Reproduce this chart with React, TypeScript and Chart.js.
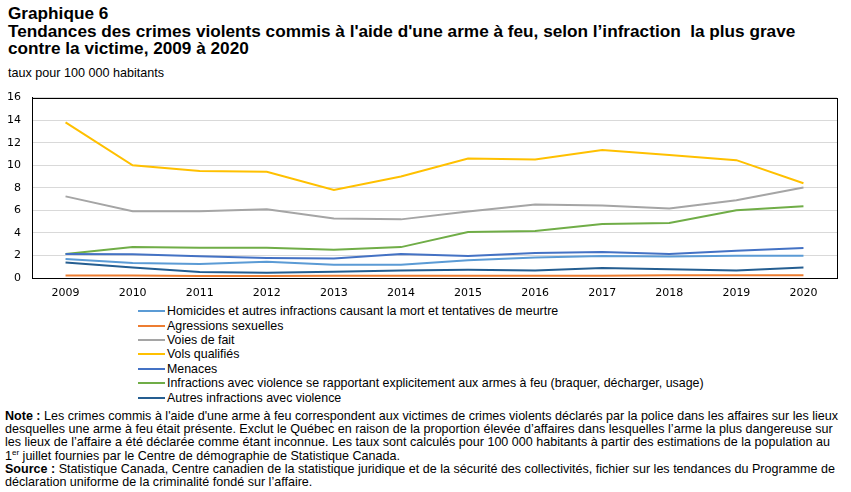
import React, { useEffect, useRef } from "react";
import { Chart, registerables } from "chart.js";

Chart.register(...registerables);

const years = ["2009", "2010", "2011", "2012", "2013", "2014", "2015", "2016", "2017", "2018", "2019", "2020"];

const homicides = [1.69, 1.34, 1.25, 1.45, 1.17, 1.17, 1.58, 1.81, 1.95, 1.9, 1.98, 1.98];
const agressionsSexuelles = [0.23, 0.22, 0.17, 0.18, 0.2, 0.2, 0.2, 0.2, 0.2, 0.25, 0.25, 0.25];
const voiesDeFait = [7.24, 5.93, 5.92, 6.1, 5.28, 5.2, 5.9, 6.52, 6.42, 6.16, 6.89, 8.03];
const volsQualifies = [13.8, 10.0, 9.5, 9.42, 7.8, 9.0, 10.6, 10.5, 11.35, 10.9, 10.45, 8.4];
const menaces = [2.13, 2.1, 1.93, 1.78, 1.72, 2.13, 1.95, 2.22, 2.3, 2.13, 2.42, 2.66];
const infractionsArmes = [2.13, 2.74, 2.68, 2.68, 2.5, 2.74, 4.08, 4.17, 4.78, 4.87, 6.01, 6.36];
const autresInfractions = [1.37, 0.93, 0.53, 0.46, 0.55, 0.67, 0.73, 0.67, 0.88, 0.78, 0.67, 0.93];

const seriesLabels = [
  "Homicides et autres infractions causant la mort et tentatives de meurtre",
  "Agressions sexuelles",
  "Voies de fait",
  "Vols qualifiés",
  "Menaces",
  "Infractions avec violence se rapportant explicitement aux armes à feu (braquer, décharger, usage)",
  "Autres infractions avec violence",
];
const seriesValues = [homicides, agressionsSexuelles, voiesDeFait, volsQualifies, menaces, infractionsArmes, autresInfractions];
const seriesColors = ["#5B9BD5", "#ED7D31", "#A5A5A5", "#FFC000", "#4472C4", "#70AD47", "#255E91"];

const yTicks = [0, 2, 4, 6, 8, 10, 12, 14, 16];

const TEXT_FONT = "'Liberation Sans', Arial, sans-serif";
const TICK_FONT = "'DejaVu Sans', Verdana, sans-serif";

const borderPlugin = {
  id: "plotBorder",
  afterDraw(chart: any) {
    const { ctx, chartArea } = chart;
    ctx.save();
    ctx.strokeStyle = "#000000";
    ctx.lineWidth = 1;
    ctx.strokeRect(
      Math.round(chartArea.left) + 0.5,
      Math.round(chartArea.top) + 0.5,
      Math.round(chartArea.right - chartArea.left),
      Math.round(chartArea.bottom - chartArea.top)
    );
    ctx.restore();
  },
};

export default function App() {
  const canvasRef = useRef<HTMLCanvasElement | null>(null);

  useEffect(() => {
    if (!canvasRef.current) return;
    const chart = new Chart(canvasRef.current, {
      type: "line",
      data: {
        labels: years,
        datasets: seriesLabels.map((label, i) => ({
          label,
          data: seriesValues[i],
          borderColor: seriesColors[i],
          backgroundColor: seriesColors[i],
          borderWidth: 2,
          pointRadius: 0,
          tension: 0,
          fill: false,
        })),
      },
      options: {
        animation: false,
        responsive: false,
        maintainAspectRatio: false,
        layout: { padding: { top: 0, right: 14, left: 0, bottom: 0 } },
        plugins: {
          legend: { display: false },
          tooltip: { enabled: false },
          title: { display: false },
        },
        scales: {
          x: {
            offset: true,
            grid: { display: false, drawTicks: false },
            border: { display: true, color: "#000000" },
            ticks: {
              color: "#000000",
              font: { family: TICK_FONT, size: 11 },
              padding: 9,
              maxRotation: 0,
              autoSkip: false,
            },
            afterFit(scale: any) {
              scale.height = 22;
            },
          },
          y: {
            min: 0,
            max: 16,
            afterBuildTicks(scale: any) {
              scale.ticks = yTicks.map((v) => ({ value: v }));
            },
            grid: { color: "#D9D9D9", drawTicks: false, lineWidth: 1 },
            border: { display: true, color: "#000000" },
            ticks: {
              color: "#000000",
              font: { family: TICK_FONT, size: 11 },
              padding: 11,
            },
            afterFit(scale: any) {
              scale.width = 32;
            },
          },
        },
      },
      plugins: [borderPlugin],
    });
    return () => chart.destroy();
  }, []);

  const line = { display: "block", whiteSpace: "nowrap" as const };

  return (
    <div style={{ position: "absolute", left: 0, top: 0, width: 851, height: 492, background: "#fff", fontFamily: TEXT_FONT, color: "#000" }}>
      <div style={{ position: "absolute", left: 8, top: 5, fontWeight: "bold", fontSize: 17.2, lineHeight: "17.5px", width: 843, whiteSpace: "nowrap" }}>
        Graphique 6
        <br />
        Tendances des crimes violents commis à l'aide d'une arme à feu, selon l’infraction&nbsp; la plus grave
        <br />
        contre la victime, 2009 à 2020
      </div>
      <div style={{ position: "absolute", left: 8, top: 66, fontSize: 12.6, whiteSpace: "nowrap" }}>taux pour 100 000 habitants</div>
      <canvas ref={canvasRef} width={851} height={220} style={{ position: "absolute", left: 0, top: 80, width: 851, height: 220 }} />
      <div style={{ position: "absolute", left: 138, top: 304 }}>
        {seriesLabels.map((label, i) => (
          <div key={label} style={{ display: "flex", alignItems: "center", height: 14.4, fontSize: 12.4, whiteSpace: "nowrap" }}>
            <span style={{ display: "inline-block", width: 27, height: 2, background: seriesColors[i], marginRight: 2 }} />
            <span>{label}</span>
          </div>
        ))}
      </div>
      <div style={{ position: "absolute", left: 5, top: 410, width: 846, fontSize: 12.55, lineHeight: "13.2px" }}>
        <span style={line}>
          <b>Note :</b> Les crimes commis à l'aide d'une arme à feu correspondent aux victimes de crimes violents déclarés par la police dans les affaires sur les lieux
        </span>
        <span style={line}>
          desquelles une arme à feu était présente. Exclut le Québec en raison de la proportion élevée d’affaires dans lesquelles l’arme la plus dangereuse sur
        </span>
        <span style={line}>
          les lieux de l’affaire a été déclarée comme étant inconnue. Les taux sont calculés pour 100 000 habitants à partir des estimations de la population au
        </span>
        <span style={line}>
          1<sup style={{ fontSize: 8, lineHeight: 0 }}>er</sup> juillet fournies par le Centre de démographie de Statistique Canada.
        </span>
        <span style={line}>
          <b>Source :</b> Statistique Canada, Centre canadien de la statistique juridique et de la sécurité des collectivités, fichier sur les tendances du Programme de
        </span>
        <span style={line}>déclaration uniforme de la criminalité fondé sur l’affaire.</span>
      </div>
    </div>
  );
}
